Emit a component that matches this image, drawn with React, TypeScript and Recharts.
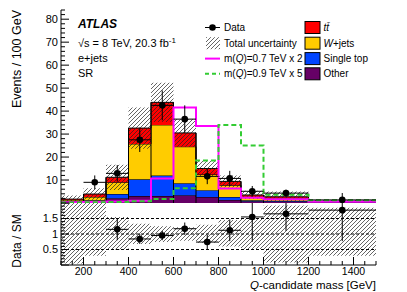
import React from 'react';
import { ComposedChart, Area, Line, Scatter, ErrorBar, XAxis, YAxis, ReferenceLine } from 'recharts';

// ---- data (bins: 100-200, ..., 900-1000, 1000-1200, 1200-1500 GeV) ----
const binEdges = [100, 200, 300, 400, 500, 600, 700, 800, 900, 1000, 1200, 1500];
const otherBkg = [0.6, 0.9, 2.1, 3.0, 3.0, 3.4, 2.6, 1.3, 0.8, 0.7, 0.3];
const singleTop = [0.2, 0.3, 1.8, 7.3, 9.0, 5.2, 3.0, 1.3, 0.4, 0.3, 0.1];
const wJets = [0.5, 1.4, 5.1, 15.4, 22.0, 15.9, 6.8, 5.1, 1.5, 1.1, 0.25];
const ttbar = [0.4, 1.3, 2.2, 6.9, 9.8, 6.0, 2.6, 1.7, 0.8, 0.6, 0.15];
const totalUnc = [1.6, 2.5, 5.5, 9.0, 8.5, 6.0, 3.5, 2.6, 1.8, 2.3, 0.6];
const signal700x2 = [0.3, 0.4, 0.6, 1.0, 10.7, 41.6, 33.5, 6.3, 2.3, 1.6, 0.5];
const signal900x5 = [0.2, 0.3, 0.4, 0.8, 1.7, 6.4, 18.5, 34.0, 25.0, 3.6, 1.2];
const ratioBandLow = [0.05, 0.3, 0.5, 0.68, 0.74, 0.78, 0.72, 0.6, 0.52, 0.08, 0.3];
const ratioBandHigh = [2.0, 2.0, 1.55, 1.33, 1.25, 1.22, 1.3, 1.45, 1.5, 1.92, 1.85];

const dataX = [250, 350, 450, 550, 650, 750, 850, 950, 1100, 1350];
const dataXErr = [50, 50, 50, 50, 50, 50, 50, 50, 100, 150];
const dataY = [9.0, 12.9, 27.5, 42.5, 36.5, 11.6, 10.7, 5.1, 4.3, 1.35];
const dataYErr = [3.0, 3.6, 5.3, 6.5, 6.0, 3.4, 3.3, 2.3, 1.5, 0.8];

const ratioX = [350, 450, 550, 650, 750, 850, 950, 1100, 1350];
const ratioXErr = [50, 50, 50, 50, 50, 50, 50, 100, 150];
const ratioY = [1.15, 0.84, 0.95, 1.17, 0.74, 1.12, 1.55, 1.65, 1.77];
const ratioYErr = [0.35, 0.16, 0.15, 0.2, 0.23, 0.35, 0.8, 0.55, 1.0];

const ratioLines = [0.5, 1, 1.5];
const legendLeft = ['Data', 'Total uncertainty', 'm(Q)=0.7 TeV x 2', 'm(Q)=0.9 TeV x 5'];
const legendRight = ['tt̄', 'W+jets', 'Single top', 'Other'];
const legendColors = ['#ff0000', '#ffcc00', '#0044ff', '#660066'];

// ---- tables ----
const nb = ttbar.length;
const binTotal = ttbar.map((_, b) => otherBkg[b] + singleTop[b] + wJets[b] + ttbar[b]);
const mainRows = binEdges.map((x, i) => {
  const b = Math.min(i, nb - 1);
  return {
    x,
    other: otherBkg[b],
    single: singleTop[b],
    wjets: wJets[b],
    tt: ttbar[b],
    bandBase: binTotal[b] - totalUnc[b],
    bandWidth: 2 * totalUnc[b],
    s7: signal700x2[b],
    s9: signal900x5[b],
  };
});
const ratioRows = binEdges.map((x, i) => {
  const b = Math.min(i, nb - 1);
  return { x, bandBase: ratioBandLow[b], bandWidth: ratioBandHigh[b] - ratioBandLow[b] };
});
// internal bin edges: vertical box borders up to the taller neighbouring stack
const edgeSegments = binEdges.slice(1, -1).map((x, i) => ({ x, top: Math.max(binTotal[i], binTotal[i + 1]) }));
const dataPts = dataX.map((x, i) => ({ x, y: dataY[i], ex: dataXErr[i], ey: dataYErr[i] }));
const ratioPts = ratioX.map((x, i) => ({ x, y: ratioY[i], ex: ratioXErr[i], ey: ratioYErr[i] }));

const xTicks = Array.from({ length: 29 }, (_, i) => 100 + i * 50);
const yTicksMain = Array.from({ length: 43 }, (_, i) => i * 2);
const yTicksRatio = Array.from({ length: 21 }, (_, i) => Math.round(i * 10) / 100);

const FONT = 'Liberation Sans, Arial, Helvetica, sans-serif';

type Side = 'bottom' | 'top' | 'left' | 'right';
const makeTick = (side: Side, majorStep: number, labelFn: ((v: number) => string | null) | null, fontSize = 11) =>
  (p: any) => {
    const { x, y, payload } = p;
    const v = payload.value;
    const r = v / majorStep;
    const major = Math.abs(r - Math.round(r)) < 1e-6;
    const len = major ? 8 : 4;
    let x2 = x, y2 = y;
    if (side === 'bottom') y2 = y - len;
    else if (side === 'top') y2 = y + len;
    else if (side === 'left') x2 = x + len;
    else x2 = x - len;
    const lbl = major && labelFn ? labelFn(v) : null;
    return (
      <g>
        <line x1={x} y1={y} x2={x2} y2={y2} stroke="#000" strokeWidth={1} />
        {lbl && side === 'bottom' && (
          <text x={x} y={y + 10} textAnchor="middle" fontSize={fontSize} fontFamily={FONT} fill="#000">{lbl}</text>
        )}
        {lbl && side === 'left' && (
          <text x={x - 3} y={y} dy="0.35em" textAnchor="end" fontSize={fontSize} fontFamily={FONT} fill="#000">{lbl}</text>
        )}
      </g>
    );
  };

const Hatch = ({ id }: { id: string }) => (
  <defs>
    <pattern id={id} patternUnits="userSpaceOnUse" width={4} height={4}>
      <path d="M0,4 L4,0 M-1,1 L1,-1 M3,5 L5,3" stroke="#222" strokeWidth={0.7} />
    </pattern>
  </defs>
);

const dot = (p: any) => <circle cx={p.cx} cy={p.cy} r={3.3} fill="#000" />;

export default function App() {
  const rowY = [27.5, 43.2, 58.6, 73.8];
  return (
    <div style={{ position: 'absolute', left: 0, top: 0, width: 407, height: 292, background: '#fff', fontFamily: FONT }}>
      <div style={{ position: 'absolute', left: 0, top: 193 }}>
        <ComposedChart width={407} height={99} data={ratioRows} margin={{ top: 10, right: 31, bottom: 0, left: 0 }}>
          <Hatch id="hatchR" />
          <XAxis dataKey="x" type="number" domain={[100, 1500]} ticks={xTicks} interval={0} tickSize={0} tickMargin={0}
            tickLine={false} tick={makeTick('bottom', 200, (v) => String(v), 10.5)} height={27} axisLine={{ stroke: '#000' }} allowDataOverflow />
          <XAxis xAxisId="top" orientation="top" dataKey="x" type="number" domain={[100, 1500]} tick={false} tickLine={false}
            height={0} axisLine={{ stroke: '#000' }} allowDataOverflow />
          <YAxis type="number" domain={[0, 2]} ticks={yTicksRatio} interval={0} tickSize={0} tickMargin={0} tickLine={false}
            tick={makeTick('left', 0.5, (v) => (v > 0.01 && v < 1.99 ? String(v) : null), 11)} width={61} axisLine={{ stroke: '#000' }} allowDataOverflow />
          <YAxis yAxisId="r" orientation="right" type="number" domain={[0, 2]} ticks={yTicksRatio} interval={0} tickSize={0}
            tickMargin={0} tickLine={false} tick={makeTick('right', 0.5, null)} width={0} axisLine={{ stroke: '#000' }} allowDataOverflow />
          <Area type="stepAfter" dataKey="bandBase" stackId="u" fill="none" stroke="none" isAnimationActive={false} activeDot={false} />
          <Area type="stepAfter" dataKey="bandWidth" stackId="u" fill="url(#hatchR)" fillOpacity={1} stroke="none" isAnimationActive={false} activeDot={false} />
          {ratioLines.map((v) => (
            <ReferenceLine key={v} y={v} stroke="#000" strokeWidth={1} strokeDasharray="3 2" />
          ))}
          <Scatter data={ratioPts} dataKey="y" fill="#000" shape={dot} isAnimationActive={false}>
            <ErrorBar dataKey="ex" direction="x" width={0} stroke="#000" strokeWidth={1} />
            <ErrorBar dataKey="ey" direction="y" width={0} stroke="#000" strokeWidth={1} />
          </Scatter>
        </ComposedChart>
      </div>
      <div style={{ position: 'absolute', left: 0, top: 0, width: 407, height: 204, overflow: 'hidden' }}>
        <ComposedChart width={407} height={205} data={mainRows} margin={{ top: 10, right: 31, bottom: 2, left: 0 }}>
          <Hatch id="hatchM" />
          <XAxis dataKey="x" type="number" domain={[100, 1500]} ticks={xTicks} interval={0} tickSize={0} tickMargin={0}
            tickLine={false} tick={makeTick('bottom', 200, null)} height={0} axisLine={{ stroke: '#000' }} allowDataOverflow />
          <XAxis xAxisId="top" orientation="top" dataKey="x" type="number" domain={[100, 1500]} ticks={xTicks} interval={0}
            tickSize={0} tickMargin={0} tickLine={false} tick={makeTick('top', 200, null)} height={0} axisLine={{ stroke: '#000' }} allowDataOverflow />
          <YAxis type="number" domain={[0, 84]} ticks={yTicksMain} interval={0} tickSize={0} tickMargin={0} tickLine={false}
            tick={makeTick('left', 10, (v) => (v === 0 ? null : String(v)), 11)} width={61} axisLine={{ stroke: '#000' }} allowDataOverflow />
          <YAxis yAxisId="r" orientation="right" type="number" domain={[0, 84]} ticks={yTicksMain} interval={0} tickSize={0}
            tickMargin={0} tickLine={false} tick={makeTick('right', 10, null)} width={0} axisLine={{ stroke: '#000' }} allowDataOverflow />
          <Area type="stepAfter" dataKey="other" stackId="s" fill="#660066" fillOpacity={1} stroke="#000" strokeWidth={1} isAnimationActive={false} activeDot={false} />
          <Area type="stepAfter" dataKey="single" stackId="s" fill="#0044ff" fillOpacity={1} stroke="#000" strokeWidth={1} isAnimationActive={false} activeDot={false} />
          <Area type="stepAfter" dataKey="wjets" stackId="s" fill="#ffcc00" fillOpacity={1} stroke="#000" strokeWidth={1} isAnimationActive={false} activeDot={false} />
          <Area type="stepAfter" dataKey="tt" stackId="s" fill="#ff0000" fillOpacity={1} stroke="#000" strokeWidth={1} isAnimationActive={false} activeDot={false} />
          {edgeSegments.map((e) => (
            <ReferenceLine key={e.x} segment={[{ x: e.x, y: 0 }, { x: e.x, y: e.top }]} stroke="#000" strokeWidth={1} />
          ))}
          <Area type="stepAfter" dataKey="bandBase" stackId="u" fill="none" stroke="none" isAnimationActive={false} activeDot={false} />
          <Area type="stepAfter" dataKey="bandWidth" stackId="u" fill="url(#hatchM)" fillOpacity={1} stroke="none" isAnimationActive={false} activeDot={false} />
          <Line type="stepAfter" dataKey="s7" stroke="#ff00ff" strokeWidth={2} dot={false} activeDot={false} isAnimationActive={false} />
          <Line type="stepAfter" dataKey="s9" stroke="#33cc33" strokeWidth={2} strokeDasharray="5 3" dot={false} activeDot={false} isAnimationActive={false} />
          <Scatter data={dataPts} dataKey="y" fill="#000" shape={dot} isAnimationActive={false}>
            <ErrorBar dataKey="ex" direction="x" width={0} stroke="#000" strokeWidth={1} />
            <ErrorBar dataKey="ey" direction="y" width={0} stroke="#000" strokeWidth={1} />
          </Scatter>
        </ComposedChart>
      </div>
      <svg width={407} height={292} style={{ position: 'absolute', left: 0, top: 0, pointerEvents: 'none' }} fontFamily={FONT}>
        <Hatch id="hatchL" />
        <text x={78} y={27.5} fontSize={12} fontWeight="bold" fontStyle="italic">ATLAS</text>
        <text x={78} y={47} fontSize={11}>√s = 8 TeV, 20.3 fb<tspan dy={-4} fontSize={8}>-1</tspan></text>
        <text x={78} y={62} fontSize={11}>e+jets</text>
        <text x={78} y={76.5} fontSize={11}>SR</text>
        {/* left legend */}
        <line x1={205} x2={220} y1={rowY[0]} y2={rowY[0]} stroke="#000" strokeWidth={1} />
        <circle cx={212.5} cy={rowY[0]} r={3.3} fill="#000" />
        <rect x={206} y={rowY[1] - 6} width={14} height={12} fill="url(#hatchL)" />
        <line x1={205} x2={220} y1={rowY[2]} y2={rowY[2]} stroke="#ff00ff" strokeWidth={2} />
        <line x1={205} x2={220} y1={rowY[3]} y2={rowY[3]} stroke="#33cc33" strokeWidth={2} strokeDasharray="4 3" />
        <text x={224} y={rowY[0] + 3.6} fontSize={10}>{legendLeft[0]}</text>
        <text x={224} y={rowY[1] + 3.6} fontSize={10}>{legendLeft[1]}</text>
        <text x={224} y={rowY[2] + 3.6} fontSize={10}>m(<tspan fontStyle="italic">Q</tspan>)=0.7 TeV x 2</text>
        <text x={224} y={rowY[3] + 3.6} fontSize={10}>m(<tspan fontStyle="italic">Q</tspan>)=0.9 TeV x 5</text>
        {/* right legend */}
        {legendRight.map((l, i) => (
          <rect key={l} x={305} y={rowY[i] - 6} width={15} height={12} fill={legendColors[i]} stroke="#000" strokeWidth={1} />
        ))}
        <text x={323.5} y={rowY[0] + 3.6} fontSize={10} fontStyle="italic">{legendRight[0]}</text>
        <text x={323.5} y={rowY[1] + 3.6} fontSize={10}><tspan fontStyle="italic">W</tspan>+jets</text>
        <text x={323.5} y={rowY[2] + 3.6} fontSize={10}>{legendRight[2]}</text>
        <text x={323.5} y={rowY[3] + 3.6} fontSize={10}>{legendRight[3]}</text>
        {/* axis titles */}
        <text transform="translate(21,10) rotate(-90)" textAnchor="end" fontSize={12.5}>Events / 100 GeV</text>
        <text transform="translate(21,241) rotate(-90)" textAnchor="middle" fontSize={12}>Data / SM</text>
        <text x={376} y={288.5} textAnchor="end" fontSize={11.5}><tspan fontStyle="italic">Q</tspan>-candidate mass [GeV]</text>
      </svg>
    </div>
  );
}
